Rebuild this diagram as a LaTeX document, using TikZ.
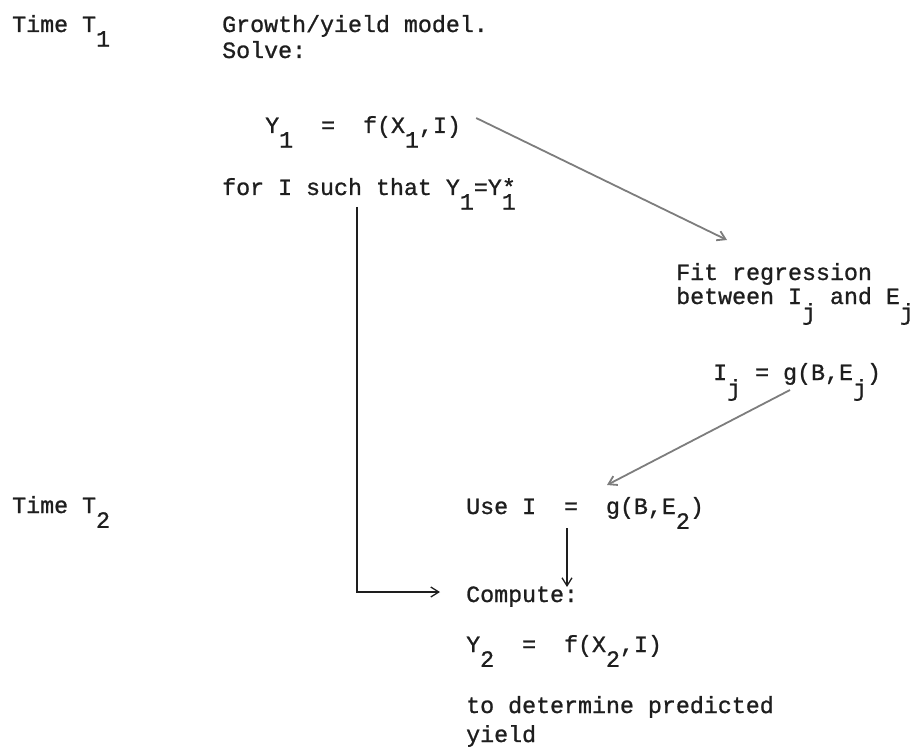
\documentclass[tikz,border=0pt]{standalone}
\usepackage{fontspec}
\newfontfamily\typew{Liberation Mono}[FakeBold=1]
\usetikzlibrary{arrows.meta,calc}
\definecolor{ink}{RGB}{30,30,30}
\definecolor{pencil}{RGB}{125,125,125}
\newcommand{\lo}[1]{\raisebox{-0.95\height}{#1}}
\newcommand{\st}[1]{\makebox[0pt][l]{*}\lo{#1}}
\tikzset{tw/.style={anchor=base west,inner sep=0pt,text=ink,font=\typew\fontsize{23.3}{26}\selectfont},
 flow/.style={-{Straight Barb[length=8pt,width=10pt]},line width=1.3pt,ink},
 slant/.style={flow,pencil,line width=1.8pt}}

\begin{document}
\begin{tikzpicture}[x=1pt,y=-1pt]
\useasboundingbox (0,0) rectangle (923,751);
\node[tw] (tone) at (12,32) {Time T\lo{1}};
\node[tw] (model) at (222,32) {Growth/yield model.};
\node[tw] (solve) at (222,58) {Solve:};
\node[tw] (yone) at (265,133) {Y\lo{1}\ \ =\ \ f(X\lo{1},I)};
\node[tw] (such) at (222,195) {for I such that Y\lo{1}=Y\st{1}};
\node[tw] (fit) at (676,280) {Fit regression};
\node[tw] (betw) at (676,304) {between I\lo{j} and E\lo{j}};
\node[tw] (ijeq) at (713,380) {I\lo{j}\ =\ g(B,E\lo{j})};
\node[tw] (ttwo) at (12,513) {Time T\lo{2}};
\node[tw] (use) at (466,514) {Use I\ \ =\ \ g(B,E\lo{2})};
\node[tw] (comp) at (466,602) {Compute:};
\node[tw] (ytwo) at (466,652) {Y\lo{2}\ \ =\ \ f(X\lo{2},I)};
\node[tw] (det) at (466,713) {to determine predicted};
\node[tw] (yld) at (466,742) {yield};
% connectors
\draw[slant] ($(yone.base east)+(15,-15)$) -- ($(fit.base west)+(51,-40)$);
\draw[slant] ($(ijeq.base west)+(77,10)$) -- ($(use.base west)+(141,-29)$);
\draw[flow] ($(such.base west)+(135,12)$) |- ($(comp.base west)+(-26,-10)$);
\draw[flow] ($(use.base west)+(101,14)$) -- ($(comp.base west)+(101,-15)$);
\end{tikzpicture}
\end{document}
